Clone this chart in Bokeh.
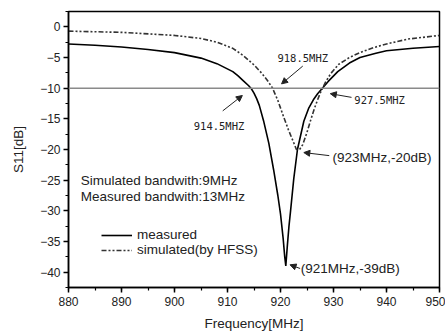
from bokeh.plotting import figure
from bokeh.models import (Span, Label, Arrow, NormalHead, Legend, LegendItem,
                          SingleIntervalTicker, Range1d)
from bokeh.embed import file_html
from bokeh.resources import INLINE

# ---------------- data ----------------
freq_measured = [880, 885, 890, 895, 900, 905, 908, 911, 912, 913, 914, 914.5, 915,
                 915.5, 916, 916.8, 917.8, 918.7, 919.5, 920, 920.5, 920.8, 921,
                 921.3, 921.6, 921.9, 922.5, 923.2, 924.4, 925.3, 926.2, 927, 927.9,
                 929, 930.8, 933, 935, 938, 940, 945, 950]
s11_measured = [-2.8, -3.0, -3.3, -3.7, -4.2, -5.1, -6.0, -7.3, -8.0, -8.8, -9.6,
                -10.1, -10.8, -11.7, -12.8, -15.3, -19.0, -23.3, -27.5, -30.5, -34.5,
                -37.5, -39.0, -35.6, -32.5, -30.0, -24.8, -20.0, -15.4, -13.3, -11.9,
                -10.9, -10.0, -8.9, -7.3, -5.9, -5.0, -4.3, -3.9, -3.5, -3.2]

freq_simulated = [880, 890, 900, 905, 908, 911, 913, 915, 916.5, 917.5, 918.5, 919.5,
                  920.6, 921.5, 922.5, 923, 923.6, 924.2, 925, 925.7, 926.4, 927,
                  927.6, 928.5, 929.5, 931, 933, 935, 937.5, 940, 944, 950]
s11_simulated = [-0.7, -0.9, -1.4, -1.9, -2.5, -3.5, -4.7, -6.2, -7.6, -8.7, -10.0,
                 -12.0, -14.7, -16.8, -18.9, -20.0, -20.0, -19.2, -17.2, -15.2, -13.3,
                 -11.9, -10.6, -9.0, -7.6, -6.1, -5.0, -4.2, -3.4, -2.8, -2.0, -1.4]

threshold_db = -10
x_limits = [880, 950]
y_limits = [-42.5, 2.5]

series_labels = ["measured", "simulated(by HFSS)"]
info_texts = ["Simulated bandwith:9MHz", "Measured bandwith:13MHz"]

# callouts: text, text x, text y, arrow start (x, y), arrow end (x, y), style, align
callouts = [
    ("918.5MHZ", 924.2, -5.0, 924.2, -6.4, 920.2, -9.3, "mono", "center"),
    ("914.5MHZ", 908.4, -16.1, 909.1, -13.7, 912.8, -11.2, "mono", "center"),
    ("927.5MHZ", 938.7, -12.0, 933.4, -11.5, 929.4, -10.9, "mono", "center"),
    ("(923MHz,-20dB)", 929.8, -21.3, 929.2, -21.0, 924.4, -20.5, "sans", "left"),
    ("(921MHz,-39dB)", 923.8, -39.4, 923.7, -39.4, 921.8, -38.8, "sans", "left"),
]

FONT = "Liberation Sans"
MONO = "DejaVu Sans Mono"

p = figure(width=445, height=333, output_backend="svg", toolbar_location=None,
           x_range=Range1d(*x_limits), y_range=Range1d(*y_limits),
           min_border_left=68, min_border_right=6, min_border_top=11,
           min_border_bottom=46, background_fill_color="white",
           border_fill_color="white")

p.xgrid.visible = False
p.ygrid.visible = False
p.outline_line_color = "black"
p.outline_line_width = 1.5
p.outline_line_alpha = 1

p.xaxis.ticker = SingleIntervalTicker(interval=10, num_minor_ticks=2)
p.yaxis.ticker = SingleIntervalTicker(interval=5, num_minor_ticks=2)
for ax in (p.xaxis, p.yaxis):
    ax.axis_line_width = 1.5
    ax.axis_line_color = "black"
    ax.major_tick_line_color = "black"
    ax.minor_tick_line_color = "black"
    ax.major_tick_line_width = 1.5
    ax.minor_tick_line_width = 1.2
    ax.major_tick_out = 5
    ax.major_tick_in = 0
    ax.minor_tick_out = 3
    ax.minor_tick_in = 0
    ax.major_label_text_font = FONT
    ax.major_label_text_font_size = "12px"
    ax.major_label_text_color = "#222222"
    ax.axis_label_text_font = FONT
    ax.axis_label_text_font_size = "13.5px"
    ax.axis_label_text_font_style = "normal"
    ax.axis_label_text_color = "#222222"
p.xaxis.axis_label = "Frequency[MHz]"
p.yaxis.axis_label = "S11[dB]"
p.xaxis.major_label_standoff = 4
p.yaxis.major_label_standoff = 3
p.xaxis.axis_label_standoff = 7
p.yaxis.axis_label_standoff = 11

p.add_layout(Span(location=threshold_db, dimension="width", line_color="#8a8a8a",
                  line_width=1.5))

r_meas = p.line(freq_measured, s11_measured, line_color="black", line_width=1.6)
r_sim = p.line(freq_simulated, s11_simulated, line_color="#333333", line_width=1.6,
               line_dash="5 2 2 2 2 2")

legend = Legend(items=[LegendItem(label=series_labels[0], renderers=[r_meas]),
                       LegendItem(label=series_labels[1], renderers=[r_sim])],
                location=(33, 30), padding=0, margin=0, spacing=0,
                glyph_width=31, glyph_height=14, label_height=14,
                label_standoff=5, label_text_font=FONT,
                label_text_font_size="13.5px", label_text_color="#222222",
                background_fill_alpha=0, border_line_alpha=0)
p.add_layout(legend)

for i, t in enumerate(info_texts):
    p.add_layout(Label(x=882.3, y=-25.1 - 2.6 * i, text=t, text_font=FONT,
                       text_font_size="13.5px", text_color="#222222",
                       text_baseline="middle", text_align="left"))

for (txt, tx, ty, xs, ys, xe, ye, style, align) in callouts:
    p.add_layout(Label(x=tx, y=ty, text=txt,
                       text_font=MONO if style == "mono" else FONT,
                       text_font_size="10.5px" if style == "mono" else "13.5px",
                       text_color="#222222", text_baseline="middle",
                       text_align=align))
    p.add_layout(Arrow(end=NormalHead(size=6, fill_color="#222222",
                                      line_color="#222222", line_width=1),
                       x_start=xs, y_start=ys, x_end=xe, y_end=ye,
                       line_color="#222222", line_width=1))

open("out.html", "w").write(file_html(p, INLINE))
